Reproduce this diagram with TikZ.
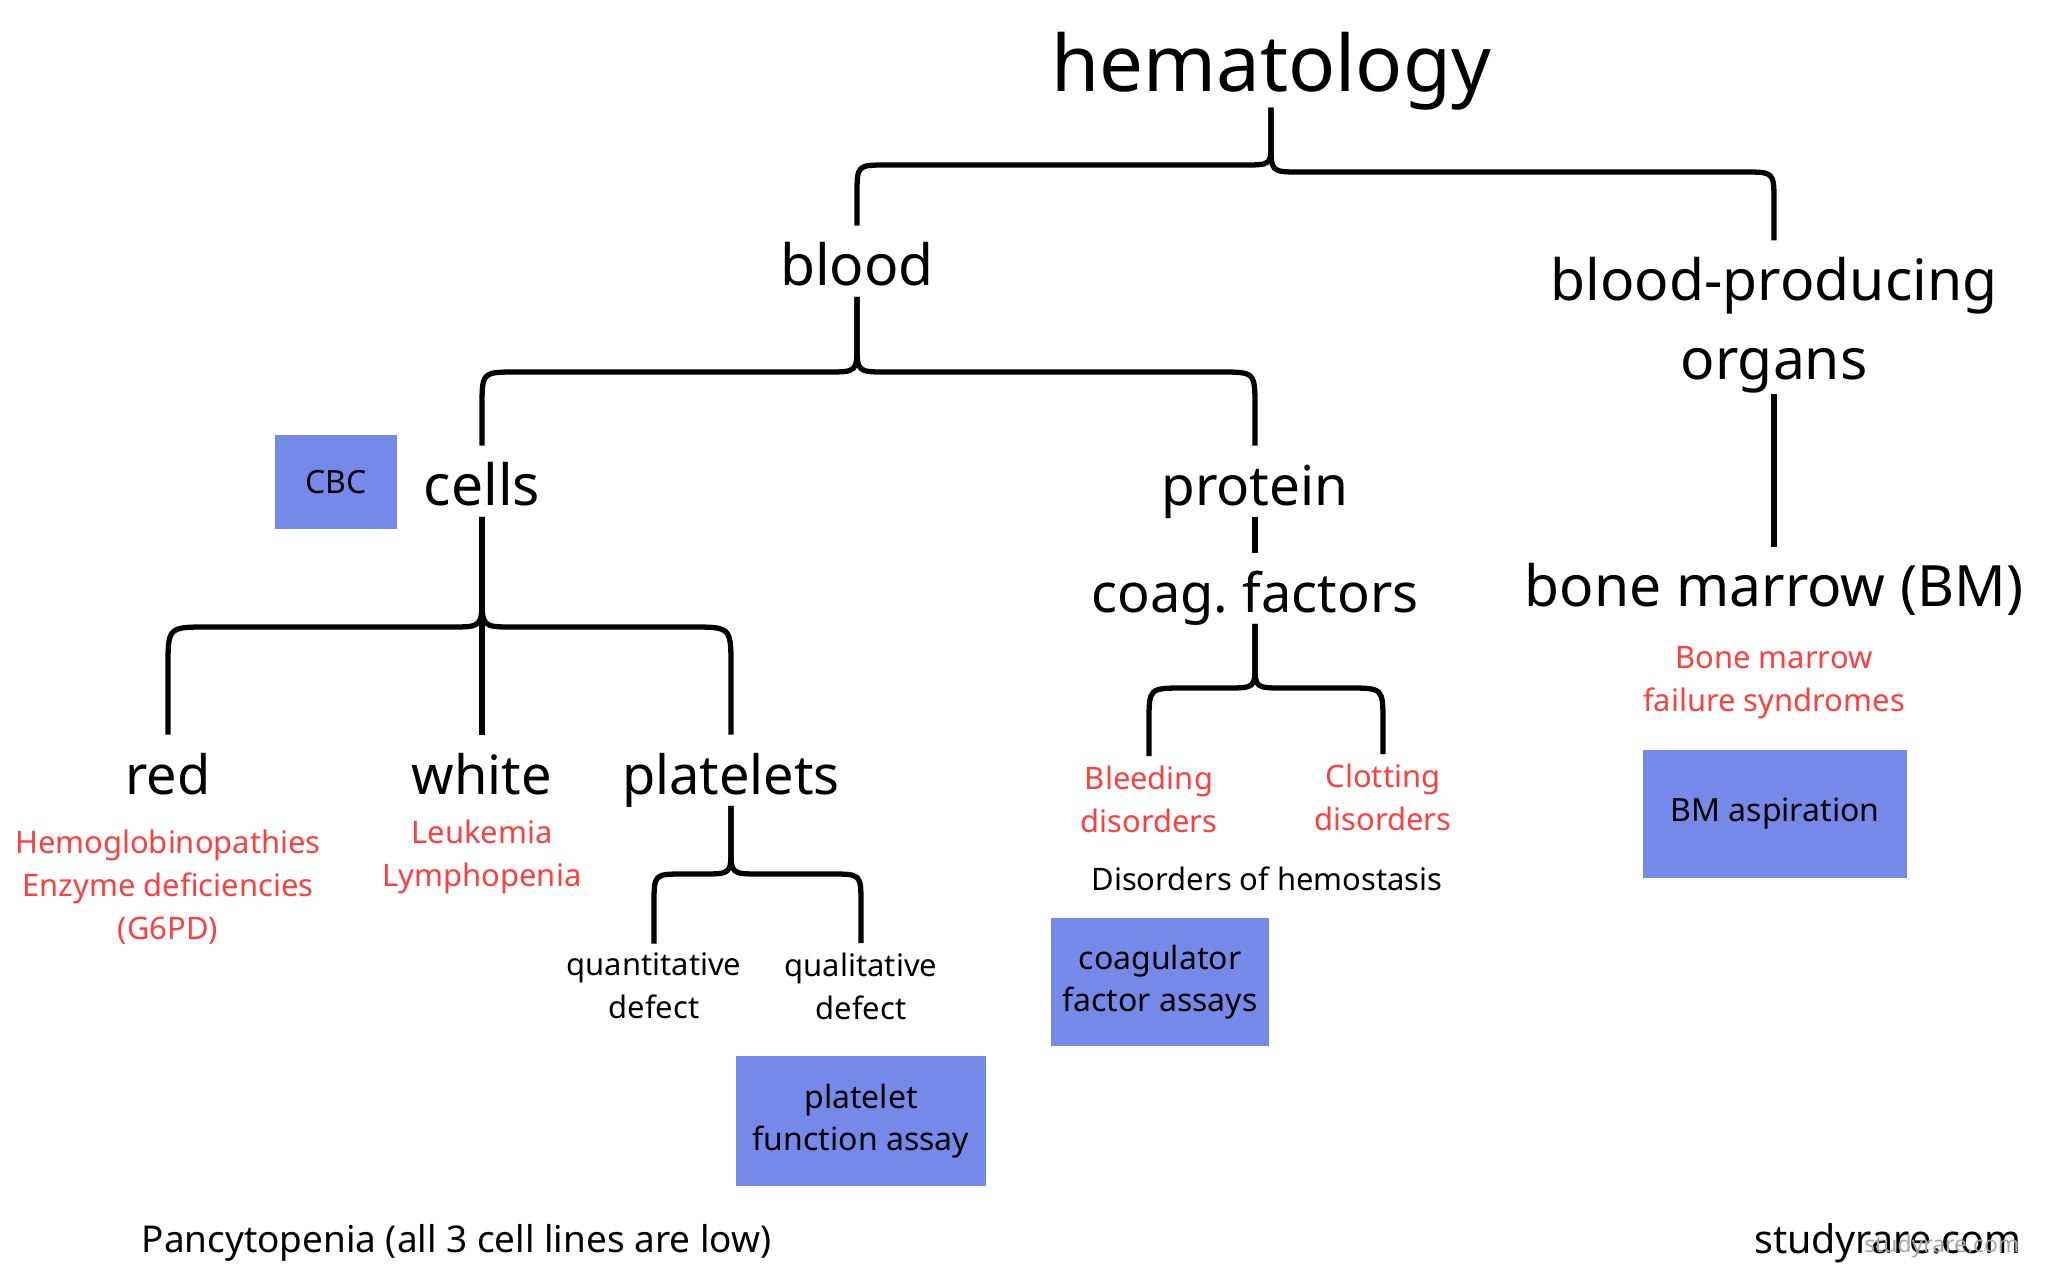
\documentclass[tikz,border=0pt]{standalone}
\usepackage{fontspec}
\setmainfont{Noto Sans}
\definecolor{boxblue}{HTML}{758AE8}
\definecolor{redtext}{HTML}{FF3E3E}

\begin{document}
\begin{tikzpicture}[x=0.01cm, y=-0.01cm,
		brace/.style={line width=1.5pt, line join=round, shorten >=4.5pt},
		title/.style={font=\fontsize{22.2}{26}\selectfont, inner sep=0, anchor=base, text height=16.6pt, text depth=4.5pt},
		levelfont/.style={font=\fontsize{16.2}{22.5}\selectfont, inner sep=0},
		level/.style={levelfont, anchor=base, text height=12.2pt, text depth=3.2pt},
		note/.style={font=\fontsize{8.8}{12.2}\selectfont, inner sep=0, align=center},
		disease/.style={note, text=redtext},
		testbox/.style={font=\fontsize{9.1}{12}\selectfont, align=center, fill=boxblue, inner sep=0}]
		\useasboundingbox (0,0) rectangle (2048,1287);
		
		%labels
		\node[title] (hema) at (1271,91) {hematology};
		\node[level] (blood) at (857,285) {blood};
		\node[levelfont, align=center] (organs) at (1774,325) {blood-producing\\organs};
		\node[level] (cells) at (482,505) {cells};
		\node[level, font=\fontsize{15.6}{22}\selectfont] (protein) at (1255,505) {protein};
		\node[level, font=\fontsize{15.4}{22}\selectfont] (coag) at (1255,612) {coag.\hspace{-0.08em} factors};
		\node[level] (bm) at (1774,606) {bone marrow (BM)};
		\node[level, font=\fontsize{15.4}{22}\selectfont] (red) at (168,794) {red};
		\node[level, font=\fontsize{15.4}{22}\selectfont] (white) at (482,794) {white};
		\node[level, font=\fontsize{15.4}{22}\selectfont] (platelets) at (731,794) {platelets};
		
		%disorders
		\node[disease] (hemo) at (168,887) {Hemoglobinopathies\\Enzyme deficiencies\\(G6PD)};
		\node[disease] (leuk) at (482,857) {Leukemia\\Lymphopenia};
		\node[disease] (bleed) at (1149,799) {Bleeding\\disorders};
		\node[disease] (clot) at (1383,797) {Clotting\\disorders};
		\node[disease] (bmfs) at (1774,683) {Bone marrow\\failure syndromes};
		\node[note, anchor=base] (hemostasis) at (1267,890) {Disorders of hemostasis};
		\node[note] (quant) at (654,986) {quantitative\\defect};
		\node[note] (qual) at (861,986) {qualitative\\defect};
		
		%tests
		\node[testbox, minimum width=1.21cm, minimum height=0.94cm] (cbc) at (336,482) {CBC};
		\node[testbox, minimum width=2.17cm, minimum height=1.28cm] (coagassay) at (1160,982) {coagulator\\factor assays};
		\node[testbox, minimum width=2.63cm, minimum height=1.28cm] (aspiration) at (1775,814) {BM aspiration};
		\node[testbox, minimum width=2.49cm, minimum height=1.29cm] (pfa) at (861,1121) {platelet\\function assay};
		
		%footer
		\node[note, font=\fontsize{10.5}{13}\selectfont, anchor=base west] (pancyto) at (141,1252) {Pancytopenia (all 3 cell lines are low)};
		\node[inner sep=0, font=\fontsize{11.2}{14}\selectfont, anchor=base east] (site) at (2022,1253) {studyrare.com};
		\node[inner sep=0, font=\fontsize{6.5}{8}\selectfont, text=black!35, anchor=base east] (mark) at (2020,1252) {studyrare.com};
		
		%hematology brace
		\draw[brace] (hema.south) -- (1271,143) .. controls (1271,165) .. (1242,165) -- (887,165) .. controls (857,165) .. (857,195) -- (blood.north);
		\draw[brace] (hema.south) -- (1271,143) .. controls (1271,172) .. (1300,172) -- (1744,172) .. controls (1774,172) .. (1774,202) -- (organs.north);
		
		%blood brace
		\draw[brace] (blood.south) -- (857,343) .. controls (857,372) .. (827,372) -- (517,372) .. controls (482,372) .. (482,407) -- (cells.north);
		\draw[brace] (blood.south) -- (857,343) .. controls (857,372) .. (887,372) -- (1220,372) .. controls (1255,372) .. (1255,407) -- (protein.north);
		
		%straight lines
		\draw[brace] (organs.south) -- (bm.north);
		\draw[brace] (protein.south) -- (coag.north);
		
		%cells brace
		\draw[brace] (cells.south) -- (white.north);
		\draw[brace] (cells.south) -- (482,595) .. controls (482,627) .. (450,627) -- (208,627) .. controls (168,627) .. (168,667) -- (red.north);
		\draw[brace] (cells.south) -- (482,595) .. controls (482,627) .. (514,627) -- (691,627) .. controls (731,627) .. (731,667) -- (platelets.north);
		
		%coag brace
		\draw[brace, shorten >=2.5pt] (coag.south) -- (1255,664) .. controls (1255,688) .. (1225,688) -- (1184,688) .. controls (1149,688) .. (1149,722) -- (bleed.north);
		\draw[brace, shorten >=2.5pt] (coag.south) -- (1255,664) .. controls (1255,688) .. (1285,688) -- (1348,688) .. controls (1383,688) .. (1383,722) -- (clot.north);
		
		%platelets brace
		\draw[brace, shorten >=2.5pt] (platelets.south) -- (731,848) .. controls (731,874) .. (701,874) -- (684,874) .. controls (654,874) .. (654,904) -- (quant.north);
		\draw[brace, shorten >=2.5pt] (platelets.south) -- (731,848) .. controls (731,874) .. (761,874) -- (831,874) .. controls (861,874) .. (861,904) -- (qual.north);
		
	\end{tikzpicture}
\end{document}
